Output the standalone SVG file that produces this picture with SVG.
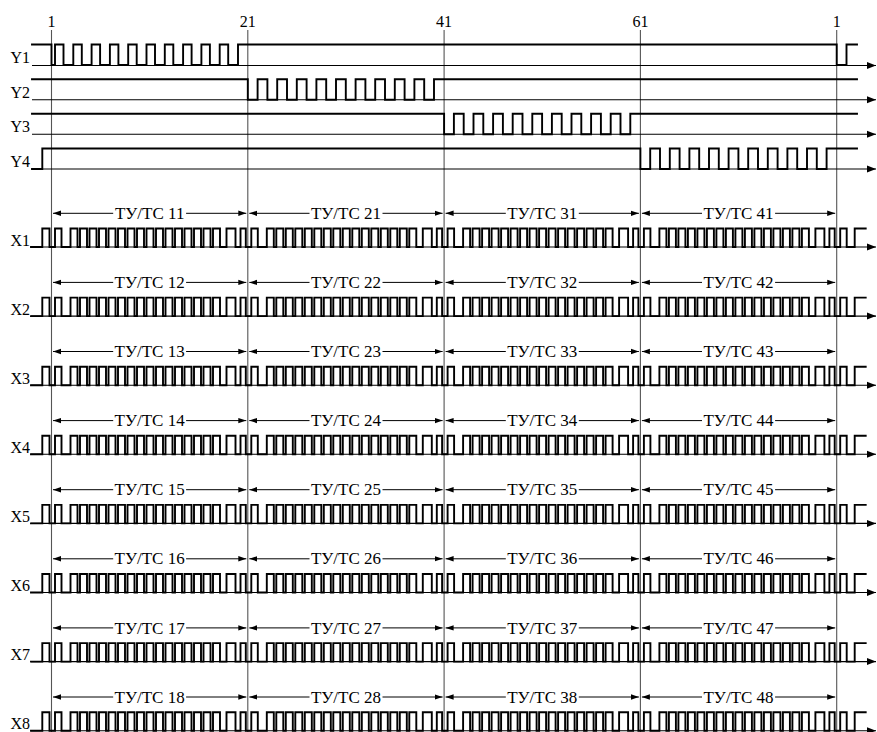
<svg xmlns="http://www.w3.org/2000/svg" xmlns:xlink="http://www.w3.org/1999/xlink" width="877" height="732" viewBox="0 0 877 732">
<style>
text{font-family:"Liberation Serif","Times New Roman",serif;font-size:16px;fill:#000}
.lbl{text-anchor:end}
.num{text-anchor:middle}
.dimt{text-anchor:middle;font-size:17px}
.grid{stroke:#555;stroke-width:1.1;fill:none}
.axis{stroke:#000;stroke-width:1.1;fill:none;marker-end:url(#ah)}
.sig{stroke:#000;stroke-width:1.9;fill:none;stroke-linejoin:miter;stroke-linecap:square}
.dl{stroke:#000;stroke-width:1;fill:none;marker-start:url(#da)}
.dr{stroke:#000;stroke-width:1;fill:none;marker-end:url(#da)}
</style>
<defs>
<marker id="ah" markerUnits="userSpaceOnUse" markerWidth="10" markerHeight="8" refX="9" refY="4" orient="auto"><path d="M0,0.5 L9,4 L0,7.5 Z" fill="#000"/></marker>
<marker id="da" markerUnits="userSpaceOnUse" markerWidth="9" markerHeight="7" refX="8" refY="3.5" orient="auto-start-reverse"><path d="M0,0.8 L8,3.5 L0,6.2 Z" fill="#000"/></marker>
<path id="xsig" class="sig" d="M31,0 H42.3 V-18.5 H49.5 V0
h5.5v-18.5h6.5v18.5h9 v-18.5h7v18.5h2.5 v-18.5h7v18.5h2.5 v-18.5h7v18.5h2.5 v-18.5h7v18.5h2.5 v-18.5h7v18.5h2.5 v-18.5h7v18.5h2.5 v-18.5h7v18.5h2.5 v-18.5h7v18.5h2.5 v-18.5h7v18.5h2.5 v-18.5h7v18.5h2.5 v-18.5h7v18.5h2.5 v-18.5h7v18.5h2.5 v-18.5h7v18.5h2.5 v-18.5h7v18.5h2.5 v-18.5h7v18.5h2.5 v-18.5h7v18.5h2.5 h4v-18.5h9v18.5h5v-18.5h5.3v18.5
h5.5v-18.5h6.5v18.5h9 v-18.5h7v18.5h2.5 v-18.5h7v18.5h2.5 v-18.5h7v18.5h2.5 v-18.5h7v18.5h2.5 v-18.5h7v18.5h2.5 v-18.5h7v18.5h2.5 v-18.5h7v18.5h2.5 v-18.5h7v18.5h2.5 v-18.5h7v18.5h2.5 v-18.5h7v18.5h2.5 v-18.5h7v18.5h2.5 v-18.5h7v18.5h2.5 v-18.5h7v18.5h2.5 v-18.5h7v18.5h2.5 v-18.5h7v18.5h2.5 v-18.5h7v18.5h2.5 h4v-18.5h9v18.5h5v-18.5h5.3v18.5
h5.5v-18.5h6.5v18.5h9 v-18.5h7v18.5h2.5 v-18.5h7v18.5h2.5 v-18.5h7v18.5h2.5 v-18.5h7v18.5h2.5 v-18.5h7v18.5h2.5 v-18.5h7v18.5h2.5 v-18.5h7v18.5h2.5 v-18.5h7v18.5h2.5 v-18.5h7v18.5h2.5 v-18.5h7v18.5h2.5 v-18.5h7v18.5h2.5 v-18.5h7v18.5h2.5 v-18.5h7v18.5h2.5 v-18.5h7v18.5h2.5 v-18.5h7v18.5h2.5 v-18.5h7v18.5h2.5 h4v-18.5h9v18.5h5v-18.5h5.3v18.5
h5.5v-18.5h6.5v18.5h9 v-18.5h7v18.5h2.5 v-18.5h7v18.5h2.5 v-18.5h7v18.5h2.5 v-18.5h7v18.5h2.5 v-18.5h7v18.5h2.5 v-18.5h7v18.5h2.5 v-18.5h7v18.5h2.5 v-18.5h7v18.5h2.5 v-18.5h7v18.5h2.5 v-18.5h7v18.5h2.5 v-18.5h7v18.5h2.5 v-18.5h7v18.5h2.5 v-18.5h7v18.5h2.5 v-18.5h7v18.5h2.5 v-18.5h7v18.5h2.5 v-18.5h7v18.5h2.5 h4v-18.5h9v18.5h5v-18.5h5.3v18.5
h5.5v-18.5h6.5v18.5h8v-18.5h11"/>
<path id="xaxis" class="axis" d="M31,0 H876"/>
<g id="dims">
<line class="dl" x1="53" y1="0" x2="113.2" y2="0"/><line class="dr" x1="186.1" y1="0" x2="246.3" y2="0"/>
<line class="dl" x1="249.3" y1="0" x2="309.5" y2="0"/><line class="dr" x1="382.5" y1="0" x2="442.6" y2="0"/>
<line class="dl" x1="445.6" y1="0" x2="505.8" y2="0"/><line class="dr" x1="578.8" y1="0" x2="638.9" y2="0"/>
<line class="dl" x1="641.9" y1="0" x2="702" y2="0"/><line class="dr" x1="775.1" y1="0" x2="835.2" y2="0"/>
</g>
</defs>

<g id="connectors">
<line class="grid" x1="51.5" y1="30" x2="51.5" y2="732"/>
<line class="grid" x1="247.8" y1="30" x2="247.8" y2="732"/>
<line class="grid" x1="444.1" y1="30" x2="444.1" y2="732"/>
<line class="grid" x1="640.4" y1="30" x2="640.4" y2="732"/>
<line class="grid" x1="836.7" y1="30" x2="836.7" y2="732"/>
<use href="#dims" y="213.3"/>
<use href="#dims" y="282.4"/>
<use href="#dims" y="351.5"/>
<use href="#dims" y="420.6"/>
<use href="#dims" y="489.7"/>
<use href="#dims" y="558.8"/>
<use href="#dims" y="627.9"/>
<use href="#dims" y="697"/>
</g>

<g id="ticks">
<text class="num" x="51.5" y="27">1</text>
<text class="num" x="247.8" y="27">21</text>
<text class="num" x="444.1" y="27">41</text>
<text class="num" x="640.4" y="27">61</text>
<text class="num" x="836.7" y="27">1</text>
</g>

<g id="Y1">
<text class="lbl" x="30" y="63">Y1</text>
<path class="axis" d="M32,65.5 H876"/>
<path class="sig" d="M32,44.5 H51.5 V65 H55 v-20.5h8.5v20.5h9.8 v-20.5h8.5v20.5h9.8 v-20.5h8.5v20.5h9.8 v-20.5h8.5v20.5h9.8 v-20.5h8.5v20.5h9.8 v-20.5h8.5v20.5h9.8 v-20.5h8.5v20.5h9.8 v-20.5h8.5v20.5h9.8 v-20.5h8.5v20.5h9.8 v-20.5h8.5v20.5h9.8 v-20.5 H836.7 V65 H846.5 V44.5 H857"/>
</g>
<g id="Y2">
<text class="lbl" x="30" y="97.7">Y2</text>
<path class="axis" d="M32,99.7 H876"/>
<path class="sig" d="M32,79.2 H247.8 v20.5 h9.8v-20.5h9.8v20.5 h9.8v-20.5h9.8v20.5 h9.8v-20.5h9.8v20.5 h9.8v-20.5h9.8v20.5 h9.8v-20.5h9.8v20.5 h9.8v-20.5h9.8v20.5 h9.8v-20.5h9.8v20.5 h9.8v-20.5h9.8v20.5 h9.8v-20.5h9.8v20.5 h9.8v-20.5 H857"/>
</g>
<g id="Y3">
<text class="lbl" x="30" y="132.3">Y3</text>
<path class="axis" d="M32,134.3 H876"/>
<path class="sig" d="M32,113.8 H444.1 v20.5 h9.8v-20.5h9.8v20.5 h9.8v-20.5h9.8v20.5 h9.8v-20.5h9.8v20.5 h9.8v-20.5h9.8v20.5 h9.8v-20.5h9.8v20.5 h9.8v-20.5h9.8v20.5 h9.8v-20.5h9.8v20.5 h9.8v-20.5h9.8v20.5 h9.8v-20.5h9.8v20.5 h9.8v-20.5 H857"/>
</g>
<g id="Y4">
<text class="lbl" x="30" y="167">Y4</text>
<path class="axis" d="M32,169 H876"/>
<path class="sig" d="M32,169 H42.3 V148.5 H640.4 v20.5 h9.8v-20.5h9.8v20.5 h9.8v-20.5h9.8v20.5 h9.8v-20.5h9.8v20.5 h9.8v-20.5h9.8v20.5 h9.8v-20.5h9.8v20.5 h9.8v-20.5h9.8v20.5 h9.8v-20.5h9.8v20.5 h9.8v-20.5h9.8v20.5 h9.8v-20.5h9.8v20.5 h9.8v-20.5 H857"/>
</g>

<g id="X1">
<text class="lbl" x="30" y="245.5">X1</text>
<use href="#xaxis" y="247"/><use href="#xsig" y="247"/>
<text class="dimt" x="149.65" y="218.9">ТУ/ТС 11</text>
<text class="dimt" x="345.95" y="218.9">ТУ/ТС 21</text>
<text class="dimt" x="542.25" y="218.9">ТУ/ТС 31</text>
<text class="dimt" x="738.55" y="218.9">ТУ/ТС 41</text>
</g>
<g id="X2">
<text class="lbl" x="30" y="314.6">X2</text>
<use href="#xaxis" y="316.1"/><use href="#xsig" y="316.1"/>
<text class="dimt" x="149.65" y="288">ТУ/ТС 12</text>
<text class="dimt" x="345.95" y="288">ТУ/ТС 22</text>
<text class="dimt" x="542.25" y="288">ТУ/ТС 32</text>
<text class="dimt" x="738.55" y="288">ТУ/ТС 42</text>
</g>
<g id="X3">
<text class="lbl" x="30" y="383.7">X3</text>
<use href="#xaxis" y="385.2"/><use href="#xsig" y="385.2"/>
<text class="dimt" x="149.65" y="357.1">ТУ/ТС 13</text>
<text class="dimt" x="345.95" y="357.1">ТУ/ТС 23</text>
<text class="dimt" x="542.25" y="357.1">ТУ/ТС 33</text>
<text class="dimt" x="738.55" y="357.1">ТУ/ТС 43</text>
</g>
<g id="X4">
<text class="lbl" x="30" y="452.8">X4</text>
<use href="#xaxis" y="454.3"/><use href="#xsig" y="454.3"/>
<text class="dimt" x="149.65" y="426.2">ТУ/ТС 14</text>
<text class="dimt" x="345.95" y="426.2">ТУ/ТС 24</text>
<text class="dimt" x="542.25" y="426.2">ТУ/ТС 34</text>
<text class="dimt" x="738.55" y="426.2">ТУ/ТС 44</text>
</g>
<g id="X5">
<text class="lbl" x="30" y="521.9">X5</text>
<use href="#xaxis" y="523.4"/><use href="#xsig" y="523.4"/>
<text class="dimt" x="149.65" y="495.3">ТУ/ТС 15</text>
<text class="dimt" x="345.95" y="495.3">ТУ/ТС 25</text>
<text class="dimt" x="542.25" y="495.3">ТУ/ТС 35</text>
<text class="dimt" x="738.55" y="495.3">ТУ/ТС 45</text>
</g>
<g id="X6">
<text class="lbl" x="30" y="591">X6</text>
<use href="#xaxis" y="592.5"/><use href="#xsig" y="592.5"/>
<text class="dimt" x="149.65" y="564.4">ТУ/ТС 16</text>
<text class="dimt" x="345.95" y="564.4">ТУ/ТС 26</text>
<text class="dimt" x="542.25" y="564.4">ТУ/ТС 36</text>
<text class="dimt" x="738.55" y="564.4">ТУ/ТС 46</text>
</g>
<g id="X7">
<text class="lbl" x="30" y="660.1">X7</text>
<use href="#xaxis" y="661.6"/><use href="#xsig" y="661.6"/>
<text class="dimt" x="149.65" y="633.5">ТУ/ТС 17</text>
<text class="dimt" x="345.95" y="633.5">ТУ/ТС 27</text>
<text class="dimt" x="542.25" y="633.5">ТУ/ТС 37</text>
<text class="dimt" x="738.55" y="633.5">ТУ/ТС 47</text>
</g>
<g id="X8">
<text class="lbl" x="30" y="729.2">X8</text>
<use href="#xaxis" y="730.7"/><use href="#xsig" y="730.7"/>
<text class="dimt" x="149.65" y="702.6">ТУ/ТС 18</text>
<text class="dimt" x="345.95" y="702.6">ТУ/ТС 28</text>
<text class="dimt" x="542.25" y="702.6">ТУ/ТС 38</text>
<text class="dimt" x="738.55" y="702.6">ТУ/ТС 48</text>
</g>
</svg>
